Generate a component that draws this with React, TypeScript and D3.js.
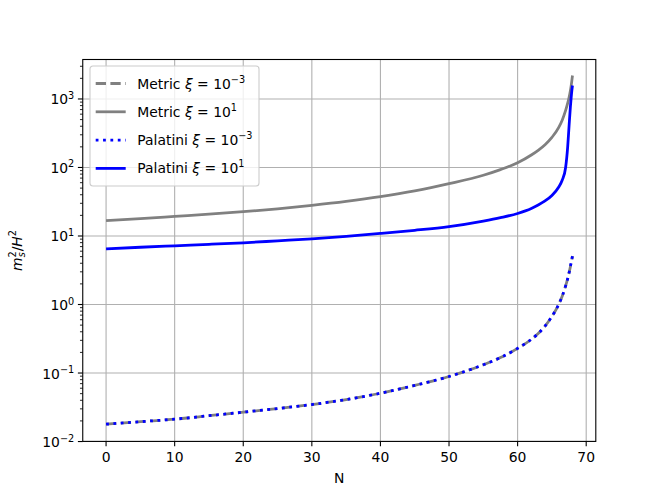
import React from 'react';
import * as d3 from 'd3';

// e-folds N, shared by every curve
const nValues = [0, 5, 10, 15, 20, 25, 30, 35, 40, 45, 50, 55, 57.5, 60, 62, 63, 64, 65, 66, 66.5, 67, 67.3, 67.5, 67.7, 67.8, 67.9, 68];

// m_s^2 / H^2
const metricSmall = [0.0179, 0.0195, 0.0212, 0.0238, 0.0268, 0.0303, 0.0347, 0.041, 0.0507, 0.066, 0.089, 0.132, 0.168, 0.229, 0.31, 0.377, 0.485, 0.67, 1.01, 1.32, 1.87, 2.39, 2.89, 3.59, 4.05, 4.54, 5.1];
const metricLarge = [16.7, 17.9, 19.3, 20.8, 22.6, 24.9, 28, 32, 37.5, 45.5, 58, 77, 93, 117, 152, 178, 215, 275, 385, 490, 680, 870, 1050, 1330, 1540, 1820, 2200];
const palatiniSmall = [0.0179, 0.0195, 0.0212, 0.0238, 0.0268, 0.0303, 0.0347, 0.041, 0.0507, 0.066, 0.089, 0.132, 0.168, 0.229, 0.31, 0.377, 0.485, 0.67, 1.01, 1.32, 1.87, 2.39, 2.89, 3.59, 4.05, 4.54, 5.1];
const palatiniLarge = [6.5, 6.85, 7.2, 7.55, 7.95, 8.5, 9.1, 9.9, 10.9, 12.1, 13.7, 16.5, 18.5, 21.3, 25.2, 28.3, 32.5, 39, 52, 65, 100, 200, 400, 780, 1020, 1300, 1570];

const xTicks = [0, 10, 20, 30, 40, 50, 60, 70];
const yExponents = [-2, -1, 0, 1, 2, 3];

const series = [
  { label: 'Metric', exp: '−3', values: metricSmall, color: '#808080', dash: '10.3,4.4' },
  { label: 'Metric', exp: '1', values: metricLarge, color: '#808080', dash: undefined },
  { label: 'Palatini', exp: '−3', values: palatiniSmall, color: '#0000ff', dash: '2.78,4.58' },
  { label: 'Palatini', exp: '1', values: palatiniLarge, color: '#0000ff', dash: undefined },
];

const W = 662, H = 496;
const left = 82.75, right = 595.8, top = 59.5, bottom = 441.4;
const font = 'DejaVu Sans';

export default function App() {
  const x = d3.scaleLinear().domain([-3.4, 71.4]).range([left, right]);
  const y = d3.scaleLog().domain([Math.pow(10, -1.998), Math.pow(10, 3.576)]).range([bottom, top]);

  const line = (vals: number[]) =>
    d3.line<number>()
      .x((_, i) => x(nValues[i]))
      .y(v => y(v))
      .curve(d3.curveMonotoneX)(vals) as string;

  const [y0, y1] = y.domain();
  const minor: number[] = [];
  for (let e = -3; e <= 4; e++) {
    for (let k = 2; k <= 9; k++) {
      const v = k * Math.pow(10, e);
      if (v >= y0 && v <= y1) minor.push(v);
    }
  }

  return (
    <svg width={W} height={H} style={{ position: 'absolute', left: 0, top: 0, background: '#fff' }} fontFamily={font}>
      <defs>
        <clipPath id="plot">
          <rect x={left} y={top} width={right - left} height={bottom - top} />
        </clipPath>
      </defs>

      {/* grid */}
      <g stroke="#b0b0b0" strokeWidth={1.1}>
        {xTicks.map(t => <line key={'gx' + t} x1={x(t)} x2={x(t)} y1={top} y2={bottom} />)}
        {yExponents.map(e => <line key={'gy' + e} x1={left} x2={right} y1={y(Math.pow(10, e))} y2={y(Math.pow(10, e))} />)}
      </g>

      {/* curves */}
      <g clipPath="url(#plot)" fill="none" strokeWidth={2.78}>
        {series.map((s, i) => (
          <path key={i} d={line(s.values)} stroke={s.color} strokeDasharray={s.dash} />
        ))}
      </g>

      {/* frame */}
      <rect x={left} y={top} width={right - left} height={bottom - top} fill="none" stroke="#000" strokeWidth={1.1} />

      {/* x axis */}
      {xTicks.map(t => (
        <g key={'xt' + t} transform={`translate(${x(t)},${bottom})`}>
          <line y2={4.86} stroke="#000" strokeWidth={1.1} />
          <text y={20.5} textAnchor="middle" fontSize={13.9}>{t}</text>
        </g>
      ))}
      <text x={(left + right) / 2} y={483} textAnchor="middle" fontSize={13.9}>N</text>

      {/* y axis */}
      {yExponents.map(e => (
        <g key={'yt' + e} transform={`translate(${left},${y(Math.pow(10, e))})`}>
          <line x2={-4.86} stroke="#000" strokeWidth={1.1} />
          <text x={-8.5} y={5.5} textAnchor="end" fontSize={13.9}>
            10<tspan fontSize={9.7} dy={-5.5}>{e < 0 ? '−' + Math.abs(e) : e}</tspan>
          </text>
        </g>
      ))}
      {minor.map((v, i) => (
        <line key={'my' + i} x1={left} x2={left - 2.78} y1={y(v)} y2={y(v)} stroke="#000" strokeWidth={0.85} />
      ))}
      <text transform={`translate(22,${(top + bottom) / 2}) rotate(-90)`} textAnchor="middle" fontSize={13.9}>
        <tspan fontStyle="italic">m</tspan>
        <tspan fontSize={9.7} fontStyle="italic" dy={3}>s</tspan>
        <tspan fontSize={9.7} dx={-5.2} dy={-9}>2</tspan>
        <tspan dy={6}>/</tspan>
        <tspan fontStyle="italic">H</tspan>
        <tspan fontSize={9.7} dy={-6}>2</tspan>
      </text>

      {/* legend */}
      <g transform="translate(90,66)">
        <rect width={169} height={120} rx={3} fill="#fff" fillOpacity={0.8} stroke="#cccccc" strokeWidth={1.1} />
        {series.map((s, i) => {
          const ry = 17.5 + i * 28.3;
          return (
            <g key={'lg' + i} transform={`translate(0,${ry})`}>
              <line x1={5.7} x2={35.7} stroke={s.color} strokeWidth={2.78} strokeDasharray={s.dash} />
              <text x={47.3} y={5} fontSize={13.9}>
                {s.label + ' '}
                <tspan fontStyle="italic">ξ</tspan>
                {' = 10'}
                <tspan fontSize={9.7} dy={-6}>{s.exp}</tspan>
              </text>
            </g>
          );
        })}
      </g>
    </svg>
  );
}
